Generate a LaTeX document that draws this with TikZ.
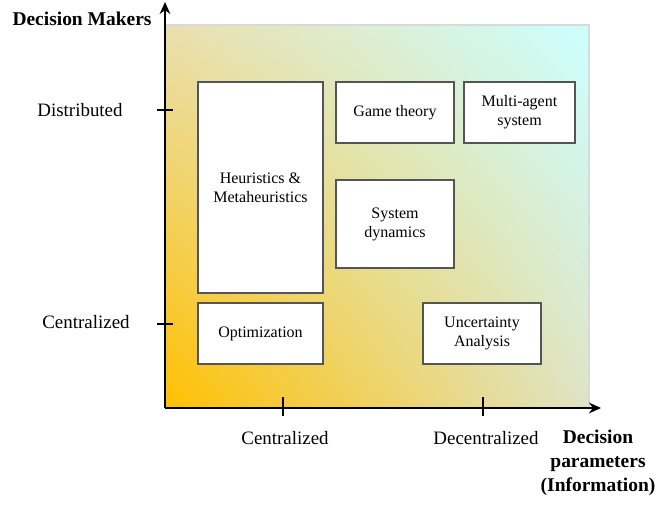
\documentclass[tikz,border=0pt]{standalone}
\usepackage{fontspec}
\setmainfont{Liberation Serif}
\usepackage{tikz}
\usetikzlibrary{arrows.meta,shadings}
\definecolor{warm}{HTML}{FFC000}
\definecolor{cool}{HTML}{CCFFFF}
\definecolor{tanTL}{HTML}{EADFAF}
\definecolor{tanBR}{HTML}{DFE3C6}
\definecolor{boxline}{HTML}{555555}
\tikzset{
  lab/.style={font=\fontsize{14.2}{17}\selectfont},
  head/.style={font=\fontsize{14.6}{18}\selectfont\bfseries, align=center},
  box/.style={draw=boxline, fill=white, line width=0.9pt, inner sep=0pt,
    align=center, font=\fontsize{12}{14.25}\selectfont},
  axis/.style={line width=1.4pt, -{Stealth[length=9pt,width=8pt]}},
  tick/.style={line width=1pt}
}
\begin{document}
\begin{tikzpicture}[x=0.75pt,y=-0.75pt]
\useasboundingbox (0,0) rectangle (667,509);
% background field
\shade[lower left=warm, upper right=cool, upper left=tanTL, lower right=tanBR]
  (165,25) rectangle (589,408);
\draw[gray!30, line width=0.8pt] (165,25) -- (589,25) -- (589,408);

% axes
\coordinate (origin) at (165,408);
\coordinate (ytop) at (165,2);
\coordinate (xend) at (601,408);
\draw[axis] (origin) -- (ytop);
\draw[axis] (origin) -- (xend);

% ticks
\draw[tick] (157,110) -- (173,110);
\draw[tick] (157,324) -- (173,324);
\draw[tick] (283,397) -- (283,416);
\draw[tick] (483,397) -- (483,416);

% axis labels
\node[head] (ylabel) at (82,19) {Decision Makers};
\node[lab] (ydist) at (80,110) {Distributed};
\node[lab] (ycent) at (86,322) {Centralized};
\node[lab] (xcent) at (285,438) {Centralized};
\node[lab] (xdec) at (486,438) {Decentralized};
\node[head] (xlabel) at (598,463) {Decision\\parameters\\(Information)};

% method boxes
\node[box, minimum width=93.75pt, minimum height=158.25pt] (heur) at (260.5,187.5) {Heuristics \&\\Metaheuristics};
\node[box, minimum width=88.5pt, minimum height=45.75pt] (game) at (395,112.5) {Game theory};
\node[box, minimum width=83.25pt, minimum height=45.75pt] (mas) at (519.5,112.5) {Multi-agent\\system};
\node[box, minimum width=88.5pt, minimum height=66pt] (sysdyn) at (395,224) {System\\dynamics};
\node[box, minimum width=93.75pt, minimum height=45.75pt] (optim) at (260.5,333.5) {Optimization};
\node[box, minimum width=88.5pt, minimum height=45.75pt] (uncert) at (482,333.5) {Uncertainty\\Analysis};
\end{tikzpicture}
\end{document}
